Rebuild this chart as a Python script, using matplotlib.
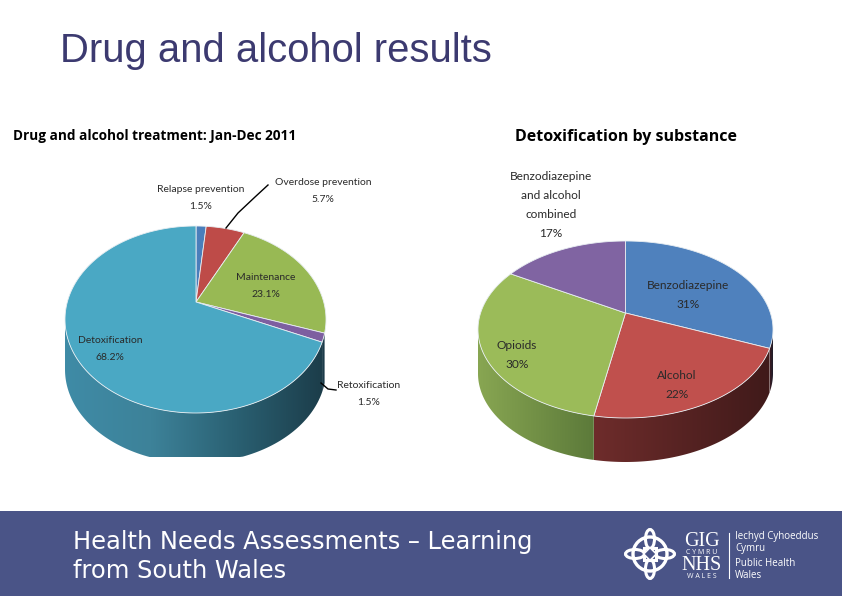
import numpy as np
import matplotlib
matplotlib.use("Agg")
import matplotlib.pyplot as plt
from matplotlib.colors import LinearSegmentedColormap
from matplotlib.patches import Circle, Ellipse, Polygon, Rectangle

# values
treatment_labels = ["Relapse prevention", "Overdose prevention", "Maintenance", "Retoxification", "Detoxification"]
treatment_values = [1.5, 5.7, 23.1, 1.5, 68.2]
treatment_colors = ["#4a7ebb", "#be4b48", "#98b954", "#7d5fa0", "#4aa8c4"]

substance_labels = ["Benzodiazepine", "Alcohol", "Opioids", "Benzodiazepine\nand alcohol\ncombined"]
substance_values = [31, 22, 30, 17]
substance_colors = ["#4f81bd", "#c0504d", "#9bbb59", "#8064a2"]

NAVY = "#4a5487"
W, H = 842, 596

plt.rcParams["font.family"] = ["Lato", "DejaVu Sans"]
fig = plt.figure(figsize=(W / 100, H / 100), dpi=100)
ax = fig.add_axes([0, 0, 1, 1])
ax.axis("off")


def rim_point(theta, pie):
    # a ray from the apex, squashed by k, hits the tilted ellipse
    dx, dy = np.sin(theta), -np.cos(theta) * pie["k"]
    ox = (pie["ax"] - pie["cx"]) / pie["rx"]
    oy = (pie["ay"] - pie["cy"]) / pie["ry"]
    ux, uy = dx / pie["rx"], dy / pie["ry"]
    a = ux**2 + uy**2
    b = 2 * (ox * ux + oy * uy)
    c = ox**2 + oy**2 - 1
    t = (-b + np.sqrt(b**2 - 4 * a * c)) / (2 * a)
    return pie["ax"] + dx * t, pie["ay"] + dy * t


def draw_pie(values, colors, side_colors, pie):
    edges = np.cumsum([0] + list(values)) / sum(values) * 2 * np.pi
    arcs = []
    for i in range(len(values)):
        th = np.linspace(edges[i], edges[i + 1], 200)
        x, y = rim_point(th, pie)
        arcs.append((x, y))
        keep = y >= pie["cy"]
        if side_colors[i] is None or keep.sum() < 2:
            continue
        xs, ys = x[keep], y[keep]
        low = np.minimum(ys + pie["depth"], pie["clip"])
        poly = np.vstack([np.column_stack([xs, ys]), np.column_stack([xs, low])[::-1]])
        cmap = LinearSegmentedColormap.from_list("side", side_colors[i])
        im = ax.imshow(np.linspace(0, 1, 256).reshape(1, -1), cmap=cmap, aspect="auto",
                       extent=[xs.min(), xs.max(), poly[:, 1].max(), poly[:, 1].min()], zorder=2)
        im.set_clip_path(Polygon(poly, transform=ax.transData))
    for (x, y), col in zip(arcs, colors):
        pts = np.vstack([[pie["ax"], pie["ay"]], np.column_stack([x, y])])
        ax.add_patch(Polygon(pts, closed=True, facecolor=col, edgecolor="#e8eef2", lw=0.6, zorder=3))


left_pie = dict(cx=195.5, cy=319.5, rx=130.5, ry=93.5, ax=196, ay=302, k=0.7, depth=50, clip=457)
right_pie = dict(cx=625.5, cy=329.5, rx=147.5, ry=88.5, ax=625.5, ay=313, k=0.62, depth=44, clip=470)

draw_pie(treatment_values, treatment_colors,
         [None, None, None, ["#1d3c4a", "#1d3c4a"], ["#3f8ba6", "#3d8299", "#2a6072", "#1c3d4a"]], left_pie)
draw_pie(substance_values, substance_colors,
         [["#3a1a22", "#16202e"], ["#6e2c2b", "#401a1a"], ["#88a652", "#5c7a3a"], None], right_pie)

# slide title and chart titles
ax.text(60, 51, "Drug and alcohol results", family="Liberation Sans", fontsize=28.8, color="#3c3a70",
        ha="left", va="center")
ax.text(13, 136, "Drug and alcohol treatment: Jan-Dec 2011", fontsize=9.85, fontweight="bold",
        family="Open Sans", color="black", ha="left", va="center")
ax.text(515, 137, "Detoxification by substance", fontsize=11.5, fontweight="bold",
        family="Open Sans", color="black", ha="left", va="center")

# slice labels
treatment_pos = [(201, 198), (323, 191), (266, 286), (369, 394), (110, 349)]
for name, val, (px, py) in zip(treatment_labels, treatment_values, treatment_pos):
    ax.text(px, py, f"{name}\n{val}%", fontsize=7.5, color="#2a2a2a",
            ha="center", va="center", linespacing=2.15, zorder=5)

substance_pos = [(688, 295), (677, 385), (517, 355), (551, 205)]
for name, val, (px, py) in zip(substance_labels, substance_values, substance_pos):
    ax.text(px, py, f"{name}\n{val}%", fontsize=8.6, color="#2a2a2a", ha="center", va="center",
            linespacing=1.9, zorder=5)

# leader lines
ax.plot([226, 238, 255, 268], [228, 213, 197, 185], color="black", lw=1, zorder=4)
ax.plot([321, 328, 336], [383, 389, 390], color="black", lw=1, zorder=4)

# footer band
ax.add_patch(Rectangle((0, 511), W, 85, facecolor=NAVY, edgecolor="none", zorder=1))
ax.text(73, 542, "Health Needs Assessments – Learning", family="DejaVu Sans", fontsize=17.4,
        color="white", ha="left", va="center")
ax.text(73, 571, "from South Wales", family="DejaVu Sans", fontsize=17.4,
        color="white", ha="left", va="center")

# logo knot
lx, ly = 650, 554
ax.add_patch(Circle((lx, ly), 17, fill=False, ec="white", lw=2.4, zorder=4))
for ang in [0, 90]:
    for off in [-15, 15]:
        ox = off if ang == 0 else 0
        oy = off if ang == 90 else 0
        ax.add_patch(Ellipse((lx + ox, ly + oy), 19, 9, angle=ang, fill=False, ec="white", lw=2.2, zorder=5))
ax.add_patch(Rectangle((lx - 6, ly - 6), 12, 12, rotation_point="center", fill=False, ec="white", lw=2.2, zorder=5))
ax.add_patch(Rectangle((lx - 4.5, ly - 4.5), 9, 9, angle=45, rotation_point="center", facecolor=NAVY, ec="white", lw=1.2, zorder=6))

# logo text
ax.text(702, 546, "GIG", family="Liberation Serif", fontsize=14.5, color="white", ha="center", va="baseline")
ax.text(702, 554.5, "C Y M R U", family="Open Sans", fontsize=5, color="white", ha="center", va="baseline")
ax.text(702, 570, "NHS", family="Liberation Serif", fontsize=14.5, color="white", ha="center", va="baseline")
ax.text(702, 578.5, "W A L E S", family="Open Sans", fontsize=5, color="white", ha="center", va="baseline")
ax.plot([729, 729], [533, 578], color="white", lw=0.8, zorder=4)
for txt, py in [("Iechyd Cyhoeddus", 537), ("Cymru", 548), ("Public Health", 563), ("Wales", 575)]:
    ax.text(735, py, txt, family="Open Sans", fontsize=7, color="white", ha="left", va="center")

ax.set_xlim(0, W)
ax.set_ylim(H, 0)
fig.savefig("out.png", dpi=100, facecolor="white")
